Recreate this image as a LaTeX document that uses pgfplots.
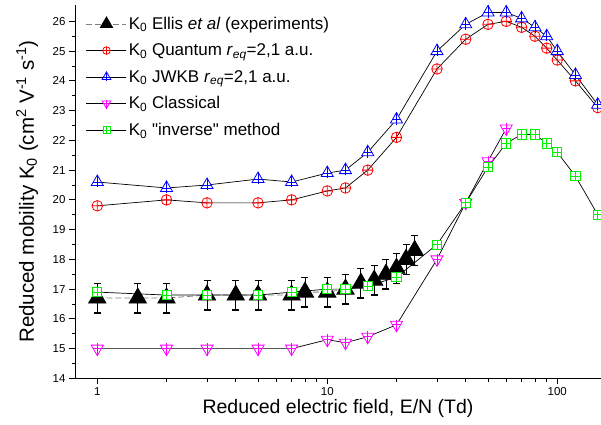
\documentclass[border=0pt]{standalone}
\usepackage{fontspec}
\setmainfont{Liberation Sans}[Ligatures=TeXOff]
\usepackage{pgfplots}
\pgfplotsset{compat=1.18}
\definecolor{mred}{RGB}{255,0,0}
\definecolor{mblue}{RGB}{0,0,255}
\definecolor{mmag}{RGB}{255,0,255}
\definecolor{mgreen}{RGB}{0,240,0}

% open marks with a cross inside, as Origin draws them
\pgfdeclareplotmark{tplus}{%
  \pgfpathmoveto{\pgfqpoint{0pt}{\pgfplotmarksize}}%
  \pgfpathlineto{\pgfqpoint{-.866\pgfplotmarksize}{-.5\pgfplotmarksize}}%
  \pgfpathlineto{\pgfqpoint{.866\pgfplotmarksize}{-.5\pgfplotmarksize}}%
  \pgfpathclose
  \pgfusepathqfillstroke
  \pgfpathmoveto{\pgfqpoint{0pt}{\pgfplotmarksize}}%
  \pgfpathlineto{\pgfqpoint{0pt}{-.75\pgfplotmarksize}}%
  \pgfpathmoveto{\pgfqpoint{-.6\pgfplotmarksize}{0pt}}%
  \pgfpathlineto{\pgfqpoint{.6\pgfplotmarksize}{0pt}}%
  \pgfusepathqstroke}
\pgfdeclareplotmark{dtplus}{%
  \pgfpathmoveto{\pgfqpoint{0pt}{-\pgfplotmarksize}}%
  \pgfpathlineto{\pgfqpoint{-.866\pgfplotmarksize}{.5\pgfplotmarksize}}%
  \pgfpathlineto{\pgfqpoint{.866\pgfplotmarksize}{.5\pgfplotmarksize}}%
  \pgfpathclose
  \pgfusepathqfillstroke
  \pgfpathmoveto{\pgfqpoint{0pt}{-\pgfplotmarksize}}%
  \pgfpathlineto{\pgfqpoint{0pt}{.75\pgfplotmarksize}}%
  \pgfpathmoveto{\pgfqpoint{-.6\pgfplotmarksize}{0pt}}%
  \pgfpathlineto{\pgfqpoint{.6\pgfplotmarksize}{0pt}}%
  \pgfusepathqstroke}
\pgfdeclareplotmark{splus}{%
  \pgfpathrectangle{\pgfqpoint{-\pgfplotmarksize}{-\pgfplotmarksize}}{\pgfqpoint{2\pgfplotmarksize}{2\pgfplotmarksize}}%
  \pgfusepathqfillstroke
  \pgfpathmoveto{\pgfqpoint{0pt}{-\pgfplotmarksize}}%
  \pgfpathlineto{\pgfqpoint{0pt}{\pgfplotmarksize}}%
  \pgfpathmoveto{\pgfqpoint{-\pgfplotmarksize}{0pt}}%
  \pgfpathlineto{\pgfqpoint{\pgfplotmarksize}{0pt}}%
  \pgfusepathqstroke}

\begin{document}
\begin{tikzpicture}
\begin{axis}[
  name=ax,
  width=526pt, height=373.4pt, scale only axis,
  xmode=log, xmin=0.8, xmax=155,
  ymin=14, ymax=26.55,
  axis x line*=bottom, axis y line*=left,
  axis line style={line width=0.8pt},
  tick align=outside,
  tick style={black, line width=0.8pt},
  major tick length=6pt, minor tick length=3.5pt,
  xtick={1,10,100}, xticklabels={1,10,100},
  ytick={14,15,...,26}, minor y tick num=1,
  /pgf/number format/assume math mode=true,
  ticklabel style={font=\fontsize{11.5}{13}\selectfont},
  xlabel={Reduced electric field, E/N (Td)},
  ylabel={Reduced mobility K\textsubscript{0} (cm\textsuperscript{2} V\textsuperscript{-1} s\textsuperscript{-1})},
  xlabel style={font=\fontsize{19.5}{22}\selectfont,
    at={(axis description cs:0.5,-0.08)}, anchor=center},
  ylabel style={font=\fontsize{20.5}{23}\selectfont,
    at={(axis description cs:-0.091,0.5)}, anchor=center},
  legend style={at={(axis description cs:0.015,0.979)}, anchor=north west,
    draw=none, fill=none, font=\fontsize{17}{19}\selectfont, row sep=9pt},
  legend cell align=left,
  legend image code/.code={\draw[mark repeat=2,mark phase=2]
    plot coordinates {(0pt,0pt) (20pt,0pt) (40pt,0pt)};},
]
\addplot[gray, line width=0.8pt, dash pattern=on 6pt off 3pt,
  mark=triangle*, mark size=10pt, mark options={solid, black, fill=black},
  legend image post style={mark size=7pt},
  error bars/.cd, y dir=both, y explicit, error mark=|,
  error bar style={black, solid, line width=0.9pt},
  error mark options={black, mark size=3.5pt, line width=1.3pt}]
coordinates {
 (1,16.7) +- (0,0.5)  (1.5,16.7) +- (0,0.5) (2,16.7) +- (0,0.5)
 (3,16.8) +- (0,0.5)  (4,16.8) +- (0,0.5)   (5,16.8) +- (0,0.5)
 (7,16.8) +- (0,0.5)  (8,16.9) +- (0,0.5)   (10,16.9) +- (0,0.5)
 (12,17.0) +- (0,0.5) (14,17.2) +- (0,0.5)  (16,17.3) +- (0,0.5)
 (18,17.5) +- (0,0.5) (20,17.7) +- (0,0.5)  (22,18.0) +- (0,0.5)
 (24,18.3) +- (0,0.5)
};
\addlegendentry{K\textsubscript{0} Ellis \textit{et al} (experiments)}

\addplot[black, line width=0.7pt, mark=oplus, mark size=5.3pt,
  mark options={mred, fill=white, line width=0.8pt},
  legend image post style={mark size=3.8pt}]
coordinates {
 (1,19.8) (2,20.0) (3,19.9) (5,19.9) (7,20.0) (10,20.3) (12,20.4) (15,21.0)
 (20,22.1) (30,24.4) (40,25.4) (50,25.9) (60,26.0) (70,25.8) (80,25.5)
 (90,25.1) (100,24.7) (120,24.0) (150,23.1)
};
\addlegendentry{K\textsubscript{0} Quantum \textit{r}\textsubscript{\textit{eq}}=2,1 a.u.}

\addplot[black, line width=0.7pt, mark=tplus, mark size=7pt,
  mark options={mblue, fill=white, line width=0.8pt},
  legend image post style={mark size=5pt}]
coordinates {
 (1,20.6) (2,20.4) (3,20.5) (5,20.7) (7,20.6) (10,20.9) (12,21.0) (15,21.6)
 (20,22.7) (30,25.0) (40,25.9) (50,26.3) (60,26.3) (70,26.1) (80,25.8)
 (90,25.5) (100,25.0) (120,24.2) (150,23.2)
};
\addlegendentry{K\textsubscript{0} JWKB \textit{r}\textsubscript{\textit{eq}}=2,1 a.u.}

\addplot[black, line width=0.7pt, mark=dtplus, mark size=7pt,
  mark options={mmag, fill=white, line width=0.8pt},
  legend image post style={mark size=5pt}]
coordinates {
 (1,15.0) (2,15.0) (3,15.0) (5,15.0) (7,15.0) (10,15.3) (12,15.2) (15,15.4)
 (20,15.8) (30,18.0) (40,19.9) (50,21.3) (60,22.4)
};
\addlegendentry{K\textsubscript{0} Classical}

\addplot[black, line width=0.7pt, mark=splus, mark size=4.6pt,
  mark options={mgreen, fill=white, line width=0.8pt},
  legend image post style={mark size=3.5pt}]
coordinates {
 (1,16.9) (2,16.8) (3,16.8) (5,16.8) (7,16.9) (10,17.0) (12,17.0) (15,17.1)
 (20,17.4) (30,18.5) (40,19.9) (50,21.1) (60,21.9) (70,22.2) (80,22.2)
 (90,21.9) (100,21.6) (120,20.8) (150,19.5)
};
\addlegendentry{K\textsubscript{0} "inverse" method}
\end{axis}
\pgfresetboundingbox
\path ([xshift=-75pt,yshift=-46pt]ax.south west) rectangle ([yshift=5pt]ax.north east);
\end{tikzpicture}
\end{document}
